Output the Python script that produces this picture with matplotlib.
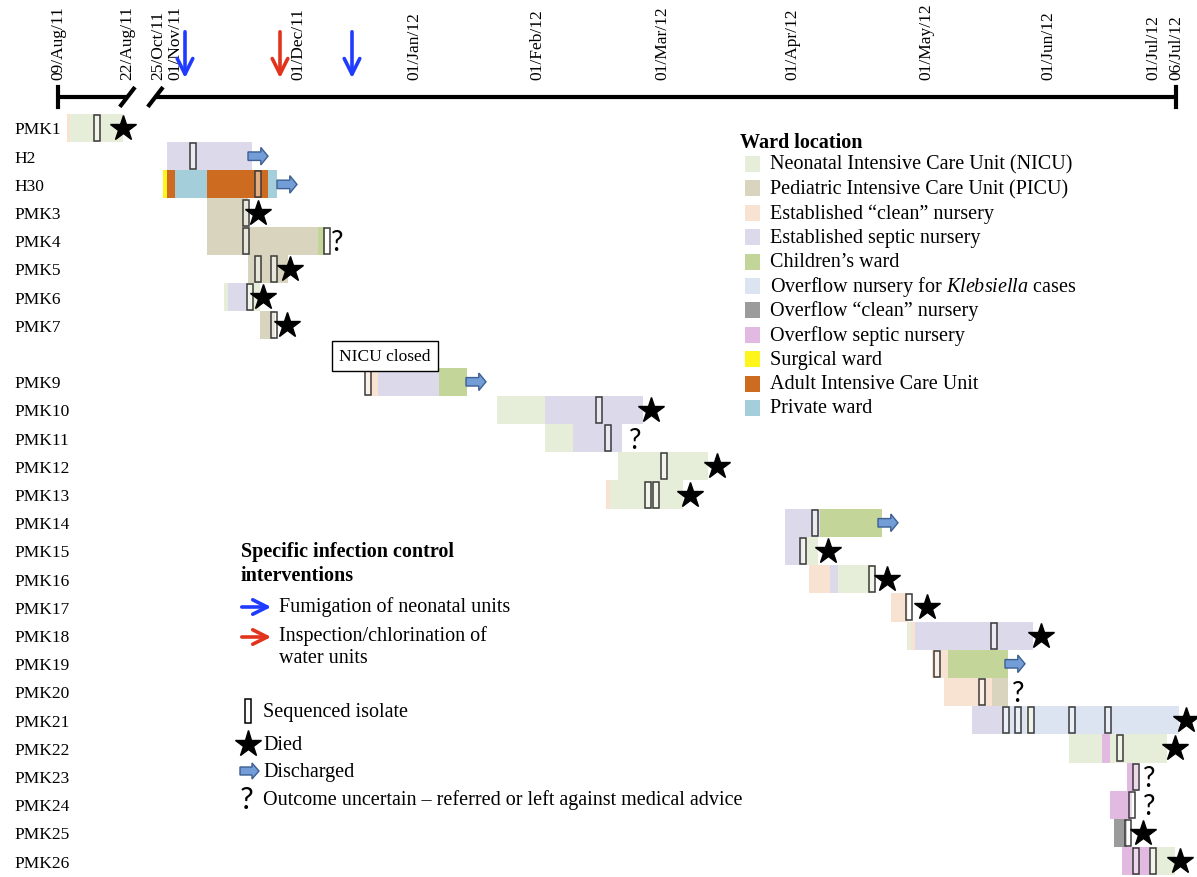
import matplotlib
matplotlib.use("Agg")
import matplotlib.pyplot as plt
from matplotlib.patches import Rectangle, FancyArrow

plt.rcParams['font.family'] = ['Liberation Serif', 'DejaVu Serif']
plt.rcParams['mathtext.fontset'] = 'custom'
plt.rcParams['mathtext.rm'] = 'Liberation Serif'
plt.rcParams['mathtext.it'] = 'Liberation Serif:italic'

# x values are days counted from 01/Nov/11. Left of the axis break (Aug 2011)
# the timeline is squeezed, so values there are only positions on the line.
tick_pos = [-29.25, -12, -4.25, 0, 30.75, 59.75, 90.5, 121.75, 154.25,
            187.75, 218.25, 244.5, 250.25]
tick_labels = ['09/Aug/11', '22/Aug/11', '25/Oct/11', '01/Nov/11', '01/Dec/11',
               '01/Jan/12', '01/Feb/12', '01/Mar/12', '01/Apr/12', '01/May/12',
               '01/Jun/12', '01/Jul/12', '06/Jul/12']

patients = ['PMK1', 'H2', 'H30', 'PMK3', 'PMK4', 'PMK5', 'PMK6', 'PMK7',
            'PMK9', 'PMK10', 'PMK11', 'PMK12', 'PMK13', 'PMK14', 'PMK15',
            'PMK16', 'PMK17', 'PMK18', 'PMK19', 'PMK20', 'PMK21', 'PMK22',
            'PMK23', 'PMK24', 'PMK25', 'PMK26']
patient_rows = [0, 1, 2, 3, 4, 5, 6, 7, 9, 10, 11, 12, 13, 14, 15, 16, 17,
                18, 19, 20, 21, 22, 23, 24, 25, 26]

# ward keys, legend labels and colours
ward_keys = ['NICU', 'PICU', 'clean', 'septic', 'child', 'kleb',
             'oclean', 'oseptic', 'surgical', 'AICU', 'private']
ward_labels = ['Neonatal Intensive Care Unit (NICU)',
               'Pediatric Intensive Care Unit (PICU)',
               'Established \u201cclean\u201d nursery',
               'Established septic nursery',
               'Children\u2019s ward',
               'Overflow nursery for $\\mathit{Klebsiella}$ cases',
               'Overflow \u201cclean\u201d nursery',
               'Overflow septic nursery',
               'Surgical ward',
               'Adult Intensive Care Unit',
               'Private ward']
ward_colors = ['#E6EDD8', '#D8D4BD', '#F8E3D2', '#DCD9EA', '#C4D59A',
               '#DCE3F1', '#9B9B9B', '#E1B9E1', '#FFF51A', '#CD6B20',
               '#A5CEDB']

# ward stays, one entry per segment
stay_patient = ['PMK1', 'PMK1',
                'H2',
                'H30', 'H30', 'H30', 'H30', 'H30',
                'PMK3',
                'PMK4', 'PMK4',
                'PMK5',
                'PMK6', 'PMK6', 'PMK6',
                'PMK7',
                'PMK9', 'PMK9', 'PMK9',
                'PMK10', 'PMK10',
                'PMK11', 'PMK11',
                'PMK12',
                'PMK13', 'PMK13',
                'PMK14', 'PMK14',
                'PMK15', 'PMK15',
                'PMK16', 'PMK16', 'PMK16',
                'PMK17',
                'PMK18', 'PMK18', 'PMK18',
                'PMK19', 'PMK19',
                'PMK20', 'PMK20',
                'PMK21', 'PMK21', 'PMK21', 'PMK21',
                'PMK22', 'PMK22', 'PMK22',
                'PMK23',
                'PMK24',
                'PMK25',
                'PMK26', 'PMK26']
stay_start = [-27, -26.25,
              -2,
              -3, -2, 0, 8, 23.25,
              8,
              8, 35.75,
              18.25,
              12.25, 13.25, 18.25,
              21.25,
              47.75, 50.75, 66,
              80.5, 92.5,
              92.5, 99.5,
              110.75,
              107.75, 108.75,
              152.5, 161.25,
              152.5, 157,
              158.5, 163.75, 165.75,
              179,
              183, 184, 185,
              189.25, 193.25,
              192.25, 204.25,
              199.25, 207, 212.75, 214.25,
              223.5, 231.75, 233.75,
              238,
              233.75,
              234.75,
              236.75, 243.75]
stay_end = [-26.25, -13,
            19.25,
            -2, 0, 8, 23.25, 25.5,
            18.25,
            35.75, 37.5,
            28.25,
            13.25, 18.25, 21.25,
            25,
            50.75, 66, 73,
            92.5, 117,
            99.5, 111.75,
            133.25,
            108.75, 127,
            161.25, 176.75,
            157, 160.75,
            163.75, 165.75, 175,
            183.25,
            184, 185, 214.5,
            193.25, 208.25,
            204.25, 208.25,
            207, 212.75, 214.25, 251,
            231.75, 233.75, 248,
            240.75,
            239.25,
            238,
            243.75, 250]
stay_ward = ['clean', 'NICU',
             'septic',
             'surgical', 'AICU', 'private', 'AICU', 'private',
             'PICU',
             'PICU', 'child',
             'PICU',
             'NICU', 'septic', 'NICU',
             'PICU',
             'clean', 'septic', 'child',
             'NICU', 'septic',
             'NICU', 'septic',
             'NICU',
             'clean', 'NICU',
             'septic', 'child',
             'septic', 'NICU',
             'clean', 'septic', 'NICU',
             'clean',
             'NICU', 'clean', 'septic',
             'clean', 'child',
             'clean', 'PICU',
             'septic', 'kleb', 'NICU', 'kleb',
             'NICU', 'oseptic', 'NICU',
             'oseptic',
             'oseptic',
             'oclean',
             'oseptic', 'NICU']

# sequenced isolates
iso_patient = ['PMK1', 'H2', 'H30', 'PMK3', 'PMK4', 'PMK4', 'PMK5', 'PMK5',
               'PMK6', 'PMK7', 'PMK9', 'PMK10', 'PMK11', 'PMK12', 'PMK13',
               'PMK13', 'PMK14', 'PMK15', 'PMK16', 'PMK17', 'PMK18', 'PMK19',
               'PMK20', 'PMK21', 'PMK21', 'PMK21', 'PMK21', 'PMK21', 'PMK22',
               'PMK23', 'PMK24', 'PMK25', 'PMK26', 'PMK26']
iso_day = [-19.5, 4.5, 20.75, 17.75, 17.75, 38, 20.75, 24.75,
           18.75, 24.75, 48.25, 106, 108.25, 122.25, 118.25,
           120.25, 160, 157, 174.25, 183.5, 204.75, 190.5,
           201.75, 207.75, 210.75, 214, 224.25, 233.25, 236.25,
           240.25, 239.25, 238.25, 240.25, 244.5]

# outcomes
died_patient = ['PMK1', 'PMK3', 'PMK5', 'PMK6', 'PMK7', 'PMK10', 'PMK12',
                'PMK13', 'PMK15', 'PMK16', 'PMK17', 'PMK18', 'PMK21', 'PMK22',
                'PMK25', 'PMK26']
died_day = [-13, 20.75, 28.75, 22, 28, 119, 135.5,
            128.75, 163.25, 178, 188, 216.5, 252.75, 250,
            242, 251.25]
discharged_patient = ['H2', 'H30', 'PMK9', 'PMK14', 'PMK19']
discharged_day = [18.25, 25.5, 72.75, 175.75, 207.5]
unknown_patient = ['PMK4', 'PMK11', 'PMK20', 'PMK23', 'PMK24']
unknown_day = [40.5, 115, 210.75, 243.5, 243.5]

# infection control interventions
intervention_day = [2.5, 26.25, 44.25]
intervention_kind = ['fumigation', 'chlorination', 'fumigation']
intervention_colors = {'fumigation': '#1F3BFF', 'chlorination': '#E2331C'}

nicu_closed_day = 52.5

W, H = 1197, 878
fig = plt.figure(figsize=(W / 100, H / 100), dpi=100)
ax = fig.add_axes([0, 0, 1, 1])
ax.set_xlim(-43.75, 255.5)
ax.set_ylim(26.56, -4.574)
ax.axis('off')


def fx(px):
    return px / W


def fy(py):
    return 1 - py / H


row_of = dict(zip(patients, patient_rows))
color_of = dict(zip(ward_keys, ward_colors))

# stays
ax.barh([row_of[p] for p in stay_patient],
        [e - s for s, e in zip(stay_start, stay_end)],
        left=stay_start, height=1.0,
        color=[color_of[w] for w in stay_ward], linewidth=0, zorder=1)

# isolates
ax.barh([row_of[p] for p in iso_patient], 1.3,
        left=[d - 0.65 for d in iso_day], height=0.92,
        facecolor=(1, 1, 1, 0.45), edgecolor='#3a3a3a', linewidth=1.1, zorder=3)

# outcomes
ax.plot(died_day, [row_of[p] for p in died_patient], '*', color='black',
        markersize=19, zorder=4)
for p, d in zip(unknown_patient, unknown_day):
    ax.text(d, row_of[p] + 0.05, '?', fontfamily='Lato', fontsize=20,
            ha='center', va='center', zorder=4)
for p, d in zip(discharged_patient, discharged_day):
    ax.add_patch(FancyArrow(d, row_of[p], 5, 0, width=0.3, head_width=0.62,
                            head_length=1.8, length_includes_head=True,
                            fc='#729DD6', ec='#3D5F93', lw=1, zorder=4))

# patient labels
for p, r in zip(patients, patient_rows):
    ax.text(-40.25, r + 0.05, p, ha='left', va='center', fontsize=12.5)

# timeline with axis break
line_y = -1.1
ax.plot([tick_pos[0], -11.9], [line_y, line_y], color='black', lw=3,
        solid_capstyle='butt')
ax.plot([-4.9, tick_pos[-1]], [line_y, line_y], color='black', lw=3,
        solid_capstyle='butt')
for x in (tick_pos[0], tick_pos[-1]):
    ax.plot([x, x], [line_y - 0.36, line_y + 0.36], color='black', lw=3)
for c in (-11.9, -4.9):
    ax.plot([c - 1.9, c + 1.9], [line_y + 0.35, line_y - 0.35], color='black',
            lw=3, solid_capstyle='butt')
for p, lab in zip(tick_pos, tick_labels):
    ax.text(p, -1.74, lab, rotation=90, ha='center', va='bottom', fontsize=12.5)

for d, k in zip(intervention_day, intervention_kind):
    ax.annotate('', xy=(d, -1.67), xytext=(d, -3.51),
                arrowprops=dict(arrowstyle='->', lw=2.6, mutation_scale=28,
                                color=intervention_colors[k]))

ax.text(nicu_closed_day, 8.07, 'NICU closed', ha='center', va='center',
        fontsize=12.5, bbox=dict(boxstyle='square,pad=0.4', fc='white',
                                 ec='black', lw=1), zorder=5)

# ward legend
ax.text(fx(740), fy(143), 'Ward location', transform=ax.transAxes,
        fontsize=14.5, fontweight='bold', va='center')
for i, (lab, col) in enumerate(zip(ward_labels, ward_colors)):
    yc = 165 + 24.4 * i
    ax.add_patch(Rectangle((fx(745), fy(yc + 8)), 15 / W, 16 / H,
                           transform=ax.transAxes, fc=col, ec='none'))
    ax.text(fx(770), fy(yc), lab, transform=ax.transAxes, fontsize=14.5,
            va='center')

# symbols legend
ax.text(fx(241), fy(564), 'Specific infection control\ninterventions',
        transform=ax.transAxes, fontsize=14.5, fontweight='bold',
        va='center', linespacing=1.3)
for py, k in ((608, 'fumigation'), (638, 'chlorination')):
    ax.annotate('', xy=(fx(274), fy(py)), xytext=(fx(239), fy(py)),
                xycoords='axes fraction', textcoords='axes fraction',
                arrowprops=dict(arrowstyle='->', lw=2.6, mutation_scale=26,
                                color=intervention_colors[k]))
ax.text(fx(279), fy(607), 'Fumigation of neonatal units',
        transform=ax.transAxes, fontsize=14.5, va='center')
ax.text(fx(279), fy(647), 'Inspection/chlorination of\nwater units',
        transform=ax.transAxes, fontsize=14.5, va='center', linespacing=1.25)

ax.add_patch(Rectangle((fx(245), fy(724)), 6 / W, 24 / H,
                       transform=ax.transAxes, fc='white', ec='black', lw=1.1))
ax.text(fx(263), fy(713), 'Sequenced isolate', transform=ax.transAxes,
        fontsize=14.5, va='center')
ax.plot([fx(248)], [fy(745)], '*', color='black', markersize=20,
        transform=ax.transAxes)
ax.text(fx(263), fy(746), 'Died', transform=ax.transAxes, fontsize=14.5,
        va='center')
ax.add_patch(FancyArrow(fx(240), fy(772), 19 / W, 0, width=8 / H,
                        head_width=16 / H, head_length=7 / W,
                        length_includes_head=True, transform=ax.transAxes,
                        fc='#729DD6', ec='#3D5F93', lw=1))
ax.text(fx(263), fy(773), 'Discharged', transform=ax.transAxes, fontsize=14.5,
        va='center')
ax.text(fx(247), fy(800), '?', transform=ax.transAxes, fontfamily='Lato',
        fontsize=22, ha='center', va='center')
ax.text(fx(263), fy(800),
        'Outcome uncertain \u2013 referred or left against medical advice',
        transform=ax.transAxes, fontsize=14.5, va='center')

fig.savefig('out.png', dpi=100)
